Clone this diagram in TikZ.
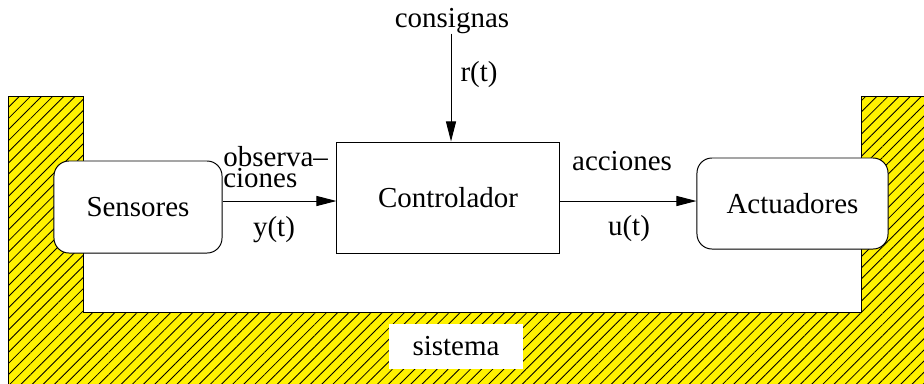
\documentclass[tikz,border=0pt]{standalone}
\usepackage{fontspec}
\setmainfont{Liberation Serif}
\usetikzlibrary{arrows.meta,patterns.meta}
\tikzset{
  bloque/.style={draw,fill=white,line width=0.7pt,inner sep=0pt},
  flecha/.style={-{Triangle[length=0.5cm,width=0.25cm]},line width=0.7pt},
  texto/.style={inner sep=0pt}
}
\begin{document}
\begin{tikzpicture}[x=0.025cm,y=-0.025cm,font=\fontsize{20.6}{15.5}\selectfont]
            \useasboundingbox (0,0) rectangle (924,383);
            % Sistema
            \begin{scope}
                \clip (0,0) rectangle (924,383);
                \draw[line width=0.7pt,fill=yellow,
                      postaction={pattern={Lines[angle=45,distance=5.6pt,line width=0.6pt]}}]
                    (8,400) -- (8,96) -- (83,96) -- (83,312) -- (861,312) -- (861,96)
                    -- (940,96) -- (940,400) -- cycle;
            \end{scope}
            \node[fill=white,minimum width=3.35cm,minimum height=1.125cm] (sis) at (456,346) {sistema};
            % Bloques
            \node[bloque,rounded corners=0.375cm,minimum width=4.2cm,minimum height=2.3cm] (sens) at (138,207) {Sensores};
            \node[bloque,minimum width=5.55cm,minimum height=2.775cm] (ctrl) at (448,197.5) {Controlador};
            \node[bloque,rounded corners=0.375cm,minimum width=4.775cm,minimum height=2.275cm] (act) at (792.5,203.5) {Actuadores};
            % Consignas
            \node[texto,anchor=base] (cons) at (452,27) {consignas};
            \draw[flecha] (cons.south -| ctrl.north) ++(3,0) coordinate (rini) -- (rini |- ctrl.north);
            \node[texto] (r) at (479,75) {r(t)};
            % Observaciones
            \coordinate (ya) at (0,201);
            \draw[flecha] (sens.east |- ya) -- (ctrl.west |- ya);
            \node[texto,anchor=west,align=left] (obs) at (223,167) {observa--\\ciones};
            \node[texto] (y) at (274,230) {y(t)};
            % Acciones
            \draw[flecha] (ctrl.east |- ya) -- (act.west |- ya);
            \node[texto,anchor=base] (acc) at (622,170) {acciones};
            \node[texto] (u) at (629,229) {u(t)};
        \end{tikzpicture}
\end{document}
